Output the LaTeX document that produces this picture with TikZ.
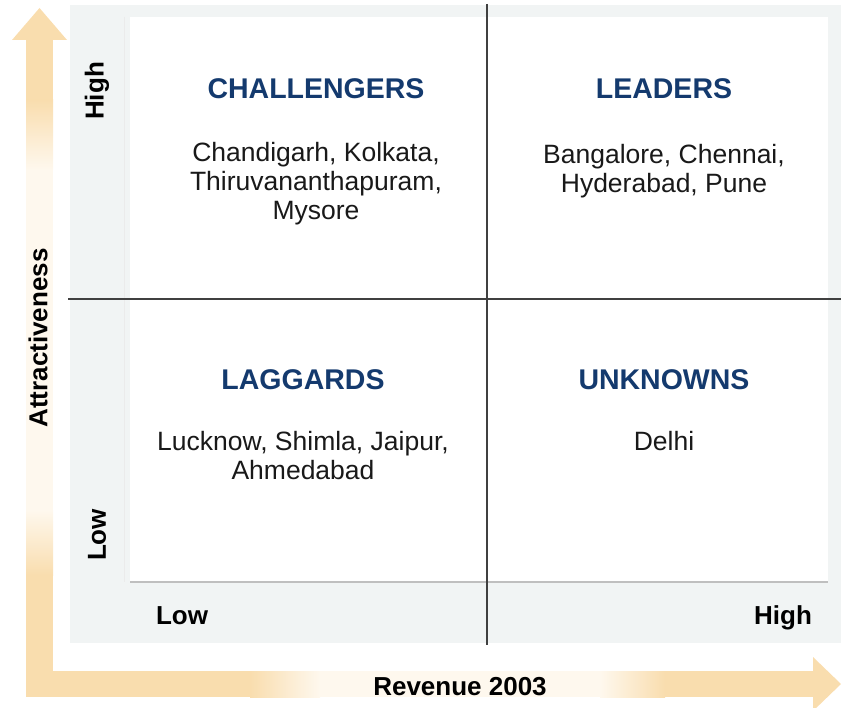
\documentclass[tikz,border=0pt]{standalone}
\usepackage{fontspec}
\setmainfont{Liberation Sans}
\usetikzlibrary{positioning}
\definecolor{quadblue}{HTML}{143A6E}
\definecolor{panelgray}{HTML}{F1F4F4}
\definecolor{arroworange}{HTML}{F9DDAE}
\definecolor{arrowpale}{HTML}{FEF8EE}
\tikzset{
    title/.style={
           font=\fontsize{28.5}{32}\selectfont\bfseries,
           text=quadblue,
           },
    cities/.style={
           font=\fontsize{26.5}{29}\selectfont,
           align=center,
           text=black!90,
           },
    axislabel/.style={
           font=\fontsize{26}{30}\selectfont\bfseries,
           },
    divider/.style={draw=black!75, line width=2.8pt},
}

\begin{document}
\begin{tikzpicture}[x=1pt,y=-1pt]
   \useasboundingbox (0,0) rectangle (841,708);
   % orange axis arrows
   \fill[arroworange] (12,40) -- (39.5,8) -- (67,40) -- cycle;
   \fill[arroworange] (26,40) rectangle (53,100);
   \shade[top color=arroworange, bottom color=arrowpale] (26,100) rectangle (53,170);
   \fill[arrowpale] (26,170) rectangle (53,510);
   \shade[top color=arrowpale, bottom color=arroworange] (26,510) rectangle (53,575);
   \fill[arroworange] (26,575) rectangle (53,697);
   \fill[arroworange] (53,671) rectangle (250,697);
   \shade[left color=arroworange, right color=arrowpale] (250,671) rectangle (320,697);
   \fill[arrowpale] (320,671) rectangle (600,697);
   \shade[left color=arrowpale, right color=arroworange] (600,671) rectangle (665,697);
   \fill[arroworange] (665,671) rectangle (813,697);
   \fill[arroworange] (813,657) -- (841,684) -- (813,711) -- cycle;
   % panels
   \fill[panelgray] (70,5) rectangle (841,643);
   \fill[white] (130,17) rectangle (828,582);
   \draw[black!25, line width=2pt] (130,582) -- (828,582);
   \draw[black!8] (124,17) -- (124,582);
   % dividers
   \coordinate (top) at (487,4);
   \coordinate (bottom) at (487,645);
   \coordinate (left) at (68,299);
   \coordinate (right) at (841,299);
   \draw[divider] (top) -- (bottom);
   \draw[divider] (left) -- (right);
   % quadrants
   \node[title] (chal) at (316,89) {CHALLENGERS};
   \node[title] (lead) at (664,89) {LEADERS};
   \node[title] (lagg) at (303,380) {LAGGARDS};
   \node[title] (unkn) at (664,380) {UNKNOWNS};
   \node[cities] (chalc) at (316,184) {Chandigarh, Kolkata,\\Thiruvananthapuram,\\Mysore};
   \node[cities] (leadc) at (664,171) {Bangalore, Chennai,\\Hyderabad, Pune};
   \node[cities] (laggc) at (303,456) {Lucknow, Shimla, Jaipur,\\Ahmedabad};
   \node[cities] (unknc) at (664,441) {Delhi};
   % axis labels
   \node[axislabel, rotate=90] (yhigh) at (97,91) {High};
   \node[axislabel, rotate=90] (ylow) at (97,535) {Low};
   \node[axislabel, anchor=base] (xlow) at (182,624) {Low};
   \node[axislabel, anchor=base] (xhigh) at (783,624) {High};
   \node[axislabel, rotate=90] (yname) at (38,338) {Attractiveness};
   \node[axislabel] (xname) at (460,687) {Revenue 2003};
\end{tikzpicture}
\end{document}
